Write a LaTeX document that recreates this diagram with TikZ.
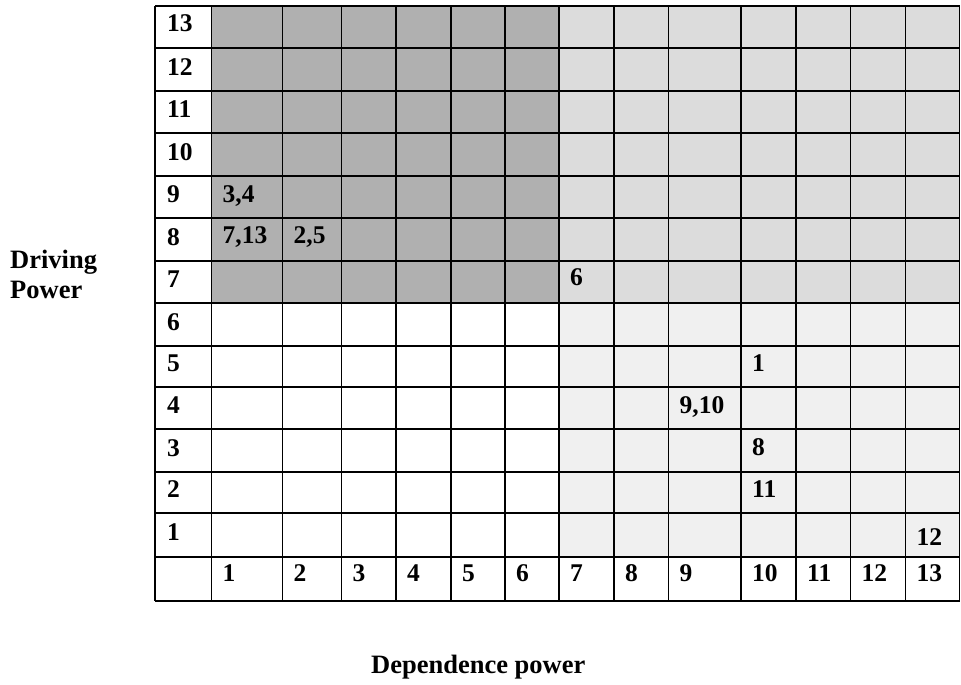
\documentclass[tikz,border=0pt]{standalone}
\usepackage{fontspec}
\setmainfont{Liberation Serif}
\definecolor{darkcell}{HTML}{B0B0B0}
\definecolor{lightcell}{HTML}{DCDCDC}
\definecolor{paler}{HTML}{F0F0F0}
\begin{document}
\begin{tikzpicture}[x=1pt,y=-1pt,
  num/.style={anchor=base west,inner sep=0pt,font=\fontsize{25.5}{30}\selectfont\bfseries},
  axislabel/.style={anchor=base west,inner sep=0pt,font=\fontsize{26.5}{30}\selectfont\bfseries,align=left},
  gridline/.style={line width=1.4pt,black}]
\useasboundingbox (0,0) rectangle (961,685);
% shaded regions
\fill[darkcell] (211.5,6) rectangle (559,303);
\fill[lightcell] (559,6) rectangle (959.5,303);
\fill[paler] (559,303) rectangle (959.5,557);
% grid
\foreach \x in {155,211.5,282.5,341.5,396,451,505,559,614,668.5,741,796,850.5,905.5,959.5}
  \draw[gridline] (\x,6) -- (\x,601);
\foreach \y in {6,48,91,133,176,218,261,303,346,387,429,472,513,557,601}
  \draw[gridline] (155,\y) -- (959.5,\y);
% row labels
\foreach \r/\b in {13/32,12/75,11/117,10/160,9/202,8/245,7/287,6/330,5/371,4/413,3/456,2/497,1/540}
  \node[num] (r\r) at (167,\b) {\r};
% column labels
\foreach \c/\x in {1/211.5,2/282.5,3/341.5,4/396,5/451,6/505,7/559,8/614,9/668.5,10/741,11/796,12/850.5,13/905.5}
  \node[num] (c\c) at (\x+11,581) {\c};
% cell entries
\node[num] (v34) at (222.5,202) {3,4};
\node[num] (v713) at (222.5,243) {7,13};
\node[num] (v25) at (293.5,243) {2,5};
\node[num] (v6) at (570,285) {6};
\node[num] (v1) at (752,371) {1};
\node[num] (v910) at (679.5,413) {9,10};
\node[num] (v8) at (752,455) {8};
\node[num] (v11) at (752,497) {11};
\node[num] (v12) at (916.5,545) {12};
% axis labels
\node[axislabel] (drv) at (10,268) {Driving};
\node[axislabel] (pow) at (10,298) {Power};
\node[axislabel] (dep) at (371,673) {Dependence power};
\end{tikzpicture}
\end{document}
